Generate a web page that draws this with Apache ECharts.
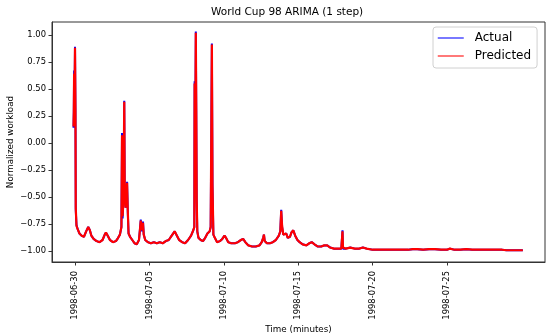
<!DOCTYPE html>
<html>
<head>
<meta charset="utf-8">
<script src="https://cdn.jsdelivr.net/npm/echarts@6/dist/echarts.min.js"></script>
<style>html,body{margin:0;padding:0;background:#fff}#c{width:550px;height:336px}</style>
</head>
<body>
<div id="c"></div>
<script>
// Time in days since 1998-06-30 00:00
const dayOffsets = [
  -0.10, -0.08, -0.06, -0.03, 0.00, 0.03, 0.05, 0.10, 0.18, 0.30,
  0.45, 0.60, 0.75, 0.89, 1.00, 1.10, 1.25, 1.45, 1.65, 1.85,
  2.00, 2.08, 2.20, 2.35, 2.55, 2.75, 2.90, 3.02, 3.12, 3.16,
  3.20, 3.26, 3.31, 3.34, 3.40, 3.47, 3.50, 3.55, 3.60, 3.70,
  3.85, 4.00, 4.15, 4.30, 4.38, 4.42, 4.47, 4.52, 4.57, 4.62,
  4.72, 4.90, 5.10, 5.30, 5.50, 5.70, 5.90, 6.10, 6.30, 6.50,
  6.70, 6.85, 7.00, 7.20, 7.40, 7.60, 7.80, 7.95, 8.02, 8.04,
  8.07, 8.12, 8.15, 8.18, 8.22, 8.30, 8.45, 8.60, 8.75, 8.90,
  9.05, 9.12, 9.17, 9.20, 9.24, 9.30, 9.40, 9.55, 9.75, 9.90,
  10.05, 10.15, 10.30, 10.50, 10.75, 10.95, 11.15, 11.30, 11.45, 11.65,
  11.90, 12.15, 12.40, 12.55, 12.65, 12.70, 12.75, 12.90, 13.10, 13.30,
  13.50, 13.70, 13.80, 13.86, 13.92, 14.00, 14.10, 14.20, 14.30, 14.45,
  14.55, 14.67, 14.80, 14.95, 15.10, 15.30, 15.55, 15.75, 15.91, 16.10,
  16.30, 16.55, 16.75, 16.95, 17.15, 17.40, 17.65, 17.90, 17.96, 17.98,
  18.01, 18.20, 18.50, 18.80, 19.10, 19.35, 19.60, 20.00, 20.40, 20.80,
  21.20, 21.60, 22.00, 22.40, 22.70, 23.00, 23.40, 23.80, 24.20, 24.60,
  25.00, 25.20, 25.50, 25.90, 26.30, 26.70, 27.10, 27.50, 27.90, 28.30,
  28.70, 29.00, 29.40, 29.80, 30.10
];
const actualValues = [
  0.14, 0.30, 0.67, 0.40, 0.89, 0.30, -0.62, -0.76, -0.80, -0.84,
  -0.86, -0.87, -0.82, -0.78, -0.81, -0.86, -0.89, -0.91, -0.92, -0.90,
  -0.85, -0.83, -0.86, -0.90, -0.92, -0.91, -0.88, -0.85, -0.78, 0.09,
  -0.70, -0.50, 0.39, -0.40, -0.60, -0.45, -0.36, -0.65, -0.84, -0.87,
  -0.90, -0.93, -0.94, -0.90, -0.78, -0.71, -0.82, -0.76, -0.73, -0.85,
  -0.90, -0.92, -0.93, -0.92, -0.93, -0.92, -0.93, -0.91, -0.90, -0.86,
  -0.82, -0.86, -0.90, -0.92, -0.93, -0.90, -0.86, -0.81, -0.78, 0.57,
  -0.30, 1.03, 0.30, -0.55, -0.82, -0.88, -0.90, -0.91, -0.88, -0.84,
  -0.82, -0.78, 0.30, 0.92, -0.40, -0.85, -0.88, -0.92, -0.91, -0.89,
  -0.86, -0.88, -0.92, -0.93, -0.93, -0.92, -0.90, -0.89, -0.92, -0.95,
  -0.96, -0.96, -0.95, -0.92, -0.88, -0.85, -0.91, -0.93, -0.93, -0.92,
  -0.90, -0.86, -0.82, -0.62, -0.78, -0.85, -0.86, -0.84, -0.88, -0.87,
  -0.83, -0.81, -0.86, -0.90, -0.92, -0.94, -0.95, -0.93, -0.92, -0.94,
  -0.96, -0.96, -0.95, -0.95, -0.97, -0.98, -0.98, -0.98, -0.97, -0.81,
  -0.98, -0.98, -0.97, -0.98, -0.98, -0.97, -0.98, -0.99, -0.99, -0.99,
  -0.99, -0.99, -0.99, -0.99, -0.985, -0.985, -0.99, -0.985, -0.985, -0.99,
  -0.99, -0.98, -0.99, -0.99, -0.985, -0.99, -0.99, -0.99, -0.99, -0.99,
  -0.99, -0.995, -0.995, -0.995, -0.995
];
const predictedValues = [
  0.15, 0.28, 0.64, 0.42, 0.88, 0.32, -0.60, -0.77, -0.80, -0.84,
  -0.86, -0.87, -0.82, -0.78, -0.81, -0.86, -0.89, -0.91, -0.92, -0.90,
  -0.85, -0.83, -0.86, -0.90, -0.92, -0.91, -0.88, -0.85, -0.78, 0.07,
  -0.68, -0.52, 0.38, -0.38, -0.60, -0.46, -0.37, -0.64, -0.84, -0.87,
  -0.90, -0.93, -0.94, -0.90, -0.78, -0.72, -0.81, -0.76, -0.74, -0.85,
  -0.90, -0.92, -0.93, -0.92, -0.93, -0.92, -0.93, -0.91, -0.90, -0.86,
  -0.82, -0.86, -0.90, -0.92, -0.93, -0.90, -0.86, -0.81, -0.78, 0.55,
  -0.28, 1.02, 0.32, -0.53, -0.82, -0.88, -0.90, -0.91, -0.88, -0.84,
  -0.82, -0.78, 0.28, 0.91, -0.38, -0.85, -0.88, -0.92, -0.91, -0.89,
  -0.86, -0.88, -0.92, -0.93, -0.93, -0.92, -0.90, -0.89, -0.92, -0.95,
  -0.96, -0.96, -0.95, -0.92, -0.88, -0.85, -0.91, -0.93, -0.93, -0.92,
  -0.90, -0.86, -0.82, -0.63, -0.77, -0.85, -0.86, -0.84, -0.88, -0.87,
  -0.83, -0.81, -0.86, -0.90, -0.92, -0.94, -0.95, -0.93, -0.92, -0.94,
  -0.96, -0.96, -0.95, -0.95, -0.97, -0.98, -0.98, -0.98, -0.97, -0.82,
  -0.97, -0.98, -0.97, -0.98, -0.98, -0.97, -0.98, -0.99, -0.99, -0.99,
  -0.99, -0.99, -0.99, -0.99, -0.985, -0.985, -0.99, -0.985, -0.985, -0.99,
  -0.99, -0.98, -0.99, -0.99, -0.985, -0.99, -0.99, -0.99, -0.99, -0.99,
  -0.99, -0.995, -0.995, -0.995, -0.995
];
const xTickDays = [0, 5, 10, 15, 20, 25];
const xTickLabels = ['1998-06-30', '1998-07-05', '1998-07-10', '1998-07-15', '1998-07-20', '1998-07-25'];
const yTickValues = [-1.0, -0.75, -0.5, -0.25, 0.0, 0.25, 0.5, 0.75, 1.0];
const seriesNames = ['Actual', 'Predicted'];

const FONT = 'DejaVu Sans';
const chart = echarts.init(document.getElementById('c'), null, {renderer: 'canvas'});
const zip = (vals) => dayOffsets.map((d, i) => [d, vals[i]]);

chart.setOption({
  animation: false,
  backgroundColor: '#fff',
  title: {
    text: 'World Cup 98 ARIMA (1 step)',
    left: 211, top: 7, padding: 0,
    textStyle: {fontFamily: FONT, fontSize: 10.5, fontWeight: 'normal', color: '#000'}
  },
  legend: {
    orient: 'vertical',
    left: 433, top: 27,
    padding: [5, 6, 6, 4],
    itemWidth: 26, itemHeight: 12, itemGap: 6,
    borderColor: '#d0d0d0', borderWidth: 1, borderRadius: 3,
    backgroundColor: 'rgba(255,255,255,0.8)',
    textStyle: {fontFamily: FONT, fontSize: 12, color: '#000', padding: [0, 0, 0, 6]},
    data: [
      {name: 'Actual', itemStyle: {color: '#4d4dff', opacity: 0}, lineStyle: {color: '#4d4dff', width: 1.5}},
      {name: 'Predicted', itemStyle: {color: '#ff4d4d', opacity: 0}, lineStyle: {color: '#ff4d4d', width: 1.5}}
    ]
  },
  grid: {
    left: 52, right: 5, top: 22, bottom: 74,
    outerBoundsMode: 'none', containLabel: false,
    show: true, borderColor: '#333', borderWidth: 1, backgroundColor: 'transparent'
  },
  xAxis: {
    type: 'value',
    min: -1.546, max: 31.59,
    splitLine: {show: false},
    axisLine: {show: true, onZero: false, lineStyle: {color: '#333'}},
    axisTick: {show: true, length: 3.5, lineStyle: {color: '#333'}, customValues: xTickDays},
    axisLabel: {
      customValues: xTickDays,
      rotate: 90, margin: 9,
      fontFamily: FONT, fontSize: 8.4, color: '#000',
      formatter: (v) => { const i = xTickDays.indexOf(Math.round(v)); return i >= 0 ? xTickLabels[i] : ''; }
    },
    name: 'Time (minutes)', nameLocation: 'middle', nameGap: 63, nameMoveOverlap: false,
    nameTextStyle: {fontFamily: FONT, fontSize: 8.75, color: '#000'}
  },
  yAxis: {
    type: 'value',
    min: -1.1037, max: 1.1185,
    splitLine: {show: false},
    axisLine: {show: true, onZero: false, lineStyle: {color: '#333'}},
    axisTick: {show: true, length: 3.5, lineStyle: {color: '#333'}, customValues: yTickValues},
    axisLabel: {
      customValues: yTickValues,
      margin: 6,
      fontFamily: FONT, fontSize: 8.4, color: '#000',
      formatter: (v) => (v < 0 ? '\u2212' + Math.abs(v).toFixed(2) : v.toFixed(2))
    },
    name: 'Normalized workload', nameLocation: 'middle', nameGap: 37, nameMoveOverlap: false,
    nameTextStyle: {fontFamily: FONT, fontSize: 8.75, color: '#000'}
  },
  series: [
    {
      name: seriesNames[0], type: 'line', data: zip(actualValues),
      symbol: 'none', showSymbol: false,
      lineStyle: {color: '#0000ff', width: 2},
      itemStyle: {color: '#0000ff'}
    },
    {
      name: seriesNames[1], type: 'line', data: zip(predictedValues),
      symbol: 'none', showSymbol: false,
      lineStyle: {color: '#ff0000', width: 2.2},
      itemStyle: {color: '#ff0000'}
    }
  ]
});
</script>
</body>
</html>
